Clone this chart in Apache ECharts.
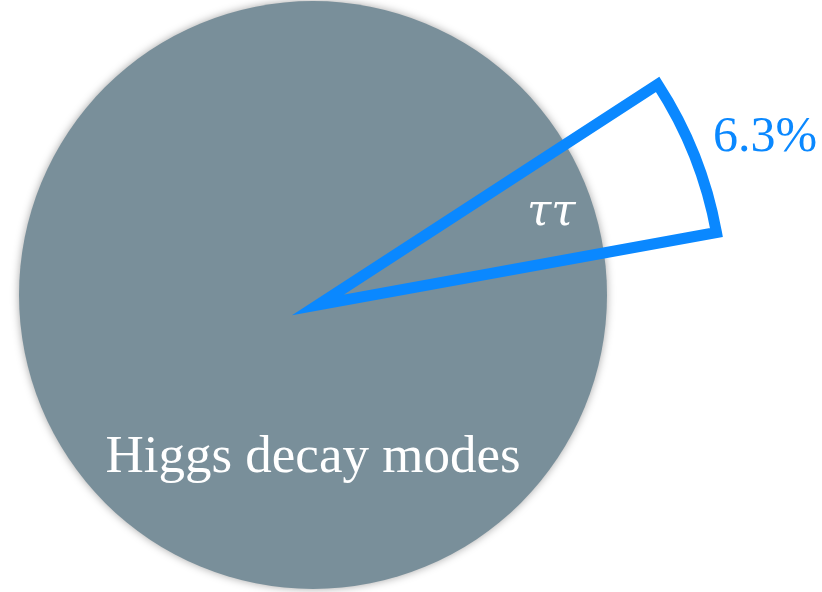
<!DOCTYPE html>
<html>
<head>
<meta charset="utf-8">
<script src="https://cdn.jsdelivr.net/npm/echarts@6/dist/echarts.min.js"></script>
<style>
html,body{margin:0;padding:0;background:#fff;}
#chart{width:822px;height:592px;}
</style>
</head>
<body>
<div id="chart"></div>
<script>
// Data
const chartTitle = 'Higgs decay modes';
const modeNames = ['ττ', 'other'];
const modeShares = [6.3, 93.7];

const chart = echarts.init(document.getElementById('chart'), null, {renderer: 'canvas'});

const GRAY = '#798f9a';
const BLUE = '#0a88ff';
const SERIF = 'Liberation Serif';

const option = {
  animation: false,
  backgroundColor: '#ffffff',
  series: [
    {
      type: 'pie',
      z: 1,
      center: [313, 295],
      radius: [0, 294],
      silent: true,
      label: {show: false},
      labelLine: {show: false},
      itemStyle: {
        color: GRAY,
        borderWidth: 0,
        shadowBlur: 8,
        shadowColor: 'rgba(0,0,0,0.35)'
      },
      data: [{name: chartTitle, value: modeShares[0] + modeShares[1]}]
    },
    {
      type: 'pie',
      z: 2,
      center: [318, 305],
      radius: [0, 405],
      startAngle: 21.65 + modeShares[0] * 3.6 / 2,
      clockwise: true,
      silent: true,
      avoidLabelOverlap: false,
      label: {show: false},
      labelLine: {show: false},
      data: [
        {
          name: modeNames[0],
          value: modeShares[0],
          itemStyle: {
            color: 'rgba(0,0,0,0)',
            borderColor: BLUE,
            borderWidth: 11,
            borderJoin: 'miter',
            borderMiterLimit: 10
          }
        },
        {
          name: modeNames[1],
          value: modeShares[1],
          itemStyle: {color: 'rgba(0,0,0,0)', borderWidth: 0}
        }
      ]
    }
  ],
  graphic: [
    {
      type: 'text',
      z: 100,
      x: 313, y: 458,
      silent: true,
      style: {
        text: chartTitle,
        fill: '#ffffff',
        fontSize: 53,
        fontFamily: SERIF,
        textAlign: 'center',
        textVerticalAlign: 'middle'
      }
    },
    {
      type: 'text',
      z: 100,
      x: 527, y: 214,
      silent: true,
      style: {
        text: modeNames[0],
        fill: '#ffffff',
        fontSize: 44,
        fontStyle: 'italic',
        fontFamily: 'DejaVu Serif',
        textAlign: 'left',
        textVerticalAlign: 'middle'
      }
    },
    {
      type: 'text',
      z: 100,
      x: 713, y: 138,
      silent: true,
      style: {
        text: modeShares[0] + '%',
        fill: BLUE,
        fontSize: 50,
        fontFamily: SERIF,
        textAlign: 'left',
        textVerticalAlign: 'middle'
      }
    }
  ]
};
chart.setOption(option);
</script>
</body>
</html>
